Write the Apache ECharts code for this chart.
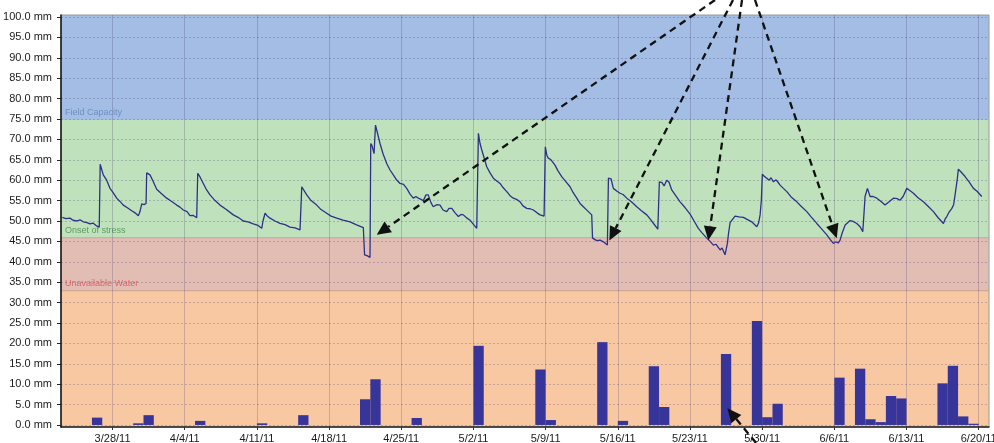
<!DOCTYPE html>
<html><head><meta charset="utf-8">
<script src="https://cdn.jsdelivr.net/npm/echarts@6/dist/echarts.min.js"></script>
<style>html,body{margin:0;padding:0;background:#fff}#c{width:994px;height:443px}</style>
</head><body><div id="c"></div>
<script>
// x values are days counted from 3/23/11 00:00
const tickDays = [5,12,19,26,33,40,47,54,61,68,75,82,89];
const tickLabels = ['3/28/11','4/4/11','4/11/11','4/18/11','4/25/11','5/2/11','5/9/11','5/16/11','5/23/11','5/30/11','6/6/11','6/13/11','6/20/11'];
const yTicks = [0,5,10,15,20,25,30,35,40,45,50,55,60,65,70,75,80,85,90,95,100];

// daily rain / irrigation (mm)
const rainDays = [3,7,8,13,19,23,29,30,34,40,46,47,52,54,57,58,64,67,68,69,75,77,78,79,80,81,85,86,87,88];
const rainMm   = [1.8,0.4,2.4,1.0,0.4,2.4,6.3,11.2,1.7,19.4,13.6,1.2,20.3,1.0,14.4,4.4,17.4,25.5,1.9,5.2,11.6,13.8,1.4,0.7,7.1,6.5,10.2,14.5,2.1,0.3];

// soil moisture (mm)
const moistDays = [0.13,0.48,0.87,1.16,1.52,1.84,2.16,2.52,2.81,3.10,3.46,3.71,3.80,4.10,4.43,4.75,5.04,5.40,5.72,6.04,6.40,6.86,7.18,7.50,7.66,7.83,8.05,8.25,8.31,8.63,8.92,9.28,9.70,10.25,10.67,11.22,11.54,11.86,12.22,12.51,12.80,13.16,13.26,13.48,13.80,14.06,14.45,14.94,15.42,16.0,16.71,17.17,17.68,18.14,18.65,19.11,19.47,19.59,19.79,19.98,20.27,20.76,21.24,21.73,22.21,22.70,23.18,23.35,23.83,24.25,24.80,25.22,25.77,26.19,26.74,27.35,28.03,28.61,29.32,29.44,29.68,29.97,30.04,30.16,30.36,30.50,30.65,30.94,31.23,31.59,31.91,32.23,32.54,32.88,33.22,33.53,33.85,34.17,34.43,34.65,34.91,35.14,35.40,35.62,35.88,36.10,36.46,36.76,37.05,37.41,37.63,37.90,38.22,38.54,38.80,39.02,39.38,39.67,40.06,40.32,40.48,40.64,40.81,41.03,41.29,41.61,41.93,42.26,42.58,42.87,43.23,43.55,43.87,44.18,44.52,44.81,45.17,45.49,45.81,46.17,46.46,46.85,46.97,47.13,47.26,47.52,47.91,48.20,48.56,48.98,49.37,49.66,50.02,50.34,50.66,51.02,51.47,51.55,51.96,52.28,52.60,52.77,52.99,53.09,53.35,53.57,53.93,54.22,54.51,54.87,55.29,55.84,56.26,56.81,57.13,57.52,57.88,58.03,58.29,58.49,58.75,58.97,59.23,59.65,60.04,60.52,61.01,61.40,61.81,62.17,62.63,62.95,63.27,63.53,63.92,64.11,64.40,64.63,64.74,64.89,65.37,65.76,66.18,66.54,66.99,67.48,67.65,67.80,67.92,68.02,68.18,68.45,68.67,68.86,69.09,69.35,69.54,69.74,70.06,70.39,70.81,71.36,71.78,72.33,72.75,73.30,73.72,74.27,74.59,74.91,75.17,75.37,75.56,75.75,76.05,76.53,76.82,77.18,77.50,77.76,77.88,77.98,78.21,78.47,78.76,79.12,79.53,79.92,80.31,80.73,81.09,81.38,81.67,82.03,82.35,82.67,83.12,83.64,84.09,84.61,85.07,85.58,85.75,85.91,86.13,86.40,86.57,86.71,86.91,87.03,87.29,87.68,88.07,88.49,88.84,89.30];
const moistMm = [50.9,50.6,50.7,50.2,50.0,50.3,49.8,49.6,49.3,49.5,48.8,48.5,63.9,61.3,60.0,58.0,57.0,55.6,54.8,53.9,53.3,52.5,52.0,51.3,52.3,54.2,54.0,54.3,61.8,61.3,59.8,57.8,56.8,55.6,54.9,53.9,53.4,52.7,52.3,51.3,51.4,50.8,61.7,60.8,59.2,57.9,56.4,55.0,53.9,52.9,51.5,50.9,50.0,49.8,49.3,48.9,48.2,50.0,51.9,51.3,50.7,50.0,49.4,49.1,48.5,48.3,47.8,58.4,56.4,55.0,53.9,52.8,51.9,51.2,50.7,50.2,49.8,49.1,48.4,41.7,41.5,41.1,69.0,68.5,66.5,73.5,72.0,69.0,66.5,64.1,62.5,61.3,60.1,59.2,59.0,58.0,56.6,55.6,56.0,55.6,55.3,55.0,56.4,56.4,54.5,53.5,54.0,53.9,52.7,52.3,53.1,53.1,52.0,51.1,51.6,51.5,50.7,50.2,49.0,48.2,71.5,69.0,67.4,65.5,63.3,61.8,60.5,59.8,59.2,58.2,57.2,56.2,55.6,55.3,54.7,53.7,53.1,53.0,52.7,52.0,51.5,51.2,68.2,66.0,65.4,65.0,63.7,62.3,60.9,59.6,58.4,57.0,55.6,54.3,53.5,52.6,51.5,45.8,45.2,45.3,44.9,45.3,44.1,60.5,60.3,58.0,57.3,56.8,56.5,55.6,54.8,53.5,52.6,51.5,50.5,49.2,48.0,59.6,59.4,58.6,60.0,59.5,57.6,56.1,54.7,53.3,51.7,50.0,48.2,47.1,45.8,45.0,44.1,44.3,42.9,43.4,41.7,44.5,47.0,49.6,51.2,51.0,50.9,50.4,49.8,48.6,49.5,51.5,55.0,61.5,61.0,60.5,60.0,60.6,59.6,60.1,59.5,58.8,58.0,57.2,55.9,54.7,53.6,52.3,51.0,49.4,48.2,46.6,45.5,44.5,44.9,44.6,45.3,47.0,49.0,50.1,49.9,49.4,48.6,47.4,52.0,56.0,58.0,56.0,56.0,55.6,54.8,53.9,54.7,55.6,55.5,55.1,56.0,58.0,57.4,56.8,55.7,54.7,53.6,52.3,50.8,49.4,50.5,51.1,52.2,53.1,54.0,56.4,60.0,62.7,62.0,60.9,59.6,58.0,57.3,56.0];

// soil water zones (mm)
const bandLow   = [-0.5, 33, 46, 75];
const bandHigh  = [33, 46, 75, 100.5];
const bandNames = ['', 'Unavailable Water', 'Onset of stress', 'Field Capacity'];

// annotation arrows: tips in data units, tails in page pixels
const annTipDay = [30.62, 53.18, 62.78, 75.24, 64.63];
const annTipMm  = [46.6, 45.2, 45.3, 45.8, 4.1];
const annTailX  = [715, 733, 742, 755, 756];
const annTailY  = [0, 0, 0, 0, 443];

const X_MIN = 0, X_MAX = 90, Y_MIN = -0.5, Y_MAX = 100.5;
const bandFill = ['#f8c8a3', '#e2bdb4', '#bfe2bc', '#a3bde4'];
const bandEdge = ['#caa28c', '#c7a39b', '#a5cfa2', null];
const bandText = ['', '#e46464', '#5f9b5f', '#6f8fc3'];

const chart = echarts.init(document.getElementById('c'), null, {renderer: 'canvas'});
const FONT = '"Liberation Sans", Arial, sans-serif';

chart.setOption({
  animation: false,
  backgroundColor: '#ffffff',
  grid: {left: 61, right: 5, top: 15, bottom: 16, containLabel: false, outerBoundsMode: 'none',
    show: true, borderColor: '#9a9a9a', borderWidth: 1, backgroundColor: 'transparent'},
  xAxis: {
    type: 'value', min: X_MIN, max: X_MAX,
    axisLine: {show: true, onZero: false, lineStyle: {color: '#222', width: 1.5}},
    axisTick: {show: true, customValues: tickDays, length: 3, lineStyle: {color: '#333'}},
    axisLabel: {customValues: tickDays, color: '#1a1a1a', fontSize: 11, fontFamily: FONT, margin: 6,
      formatter: v => tickLabels[tickDays.indexOf(Math.round(v))] || ''},
    splitLine: {show: true, lineStyle: {color: 'rgba(70,60,110,0.25)', width: 1}}
  },
  yAxis: {
    type: 'value', min: Y_MIN, max: Y_MAX,
    axisLine: {show: true, onZero: false, lineStyle: {color: '#111', width: 1.5}},
    axisTick: {show: true, customValues: yTicks, length: 4, lineStyle: {color: '#222'}},
    axisLabel: {customValues: yTicks, color: '#1a1a1a', fontSize: 11, fontFamily: FONT, margin: 9,
      formatter: v => v.toFixed(1) + ' mm'},
    splitLine: {show: true, lineStyle: {color: 'rgba(70,60,110,0.28)', width: 1, type: [2, 2]}}
  },
  series: [
    {
      type: 'custom', z: -1, silent: true,
      data: bandLow.map((l, i) => [i, l, bandHigh[i]]),
      encode: {x: -1, y: [1, 2]},
      renderItem: (params, api) => {
        const i = params.dataIndex;
        const pTop = api.coord([X_MIN, api.value(2)]);
        const pBot = api.coord([X_MAX, api.value(1)]);
        const children = [{
          type: 'rect',
          shape: {x: pTop[0], y: pTop[1], width: pBot[0] - pTop[0], height: pBot[1] - pTop[1]},
          style: {fill: bandFill[i]}
        }];
        if (bandEdge[i]) {
          children.push({type: 'line', shape: {x1: pTop[0], y1: pTop[1], x2: pBot[0], y2: pTop[1]},
            style: {stroke: bandEdge[i], lineWidth: 2}});
        }
        if (bandNames[i]) {
          children.push({type: 'text', x: pTop[0] + 4, y: pBot[1] - 2,
            style: {text: bandNames[i], fill: bandText[i], font: '9px ' + FONT, align: 'left', verticalAlign: 'bottom'}});
        }
        return {type: 'group', children};
      }
    },
    {
      type: 'custom', z: 3, silent: true,
      data: rainDays.map((d, i) => [d, rainMm[i]]),
      encode: {x: 0, y: 1},
      renderItem: (params, api) => {
        const a = api.coord([api.value(0), 0]);
        const b = api.coord([api.value(0) + 1, api.value(1)]);
        return {type: 'rect', shape: {x: a[0], y: b[1], width: b[0] - a[0], height: a[1] - b[1]},
          style: {fill: '#37349a'}};
      }
    },
    {
      type: 'line', z: 4, silent: true, showSymbol: false, symbol: 'none',
      data: moistDays.map((d, i) => [d, moistMm[i]]),
      lineStyle: {color: '#2e3089', width: 1.3}
    }
  ]
});

// dashed annotation arrows
const graphics = [];
annTipDay.forEach((d, i) => {
  const tip = chart.convertToPixel({gridIndex: 0}, [d, annTipMm[i]]);
  const tx = annTailX[i], ty = annTailY[i];
  const dx = tip[0] - tx, dy = tip[1] - ty, len = Math.hypot(dx, dy);
  const ux = dx / len, uy = dy / len;
  const L = 14, W = 6.5;
  const bx = tip[0] - ux * L, by = tip[1] - uy * L;
  graphics.push({type: 'line', z: 100, shape: {x1: tx, y1: ty, x2: bx, y2: by},
    style: {stroke: '#111', lineWidth: 2.3, lineDash: [7, 5]}});
  graphics.push({type: 'polygon', z: 100, shape: {points: [[tip[0], tip[1]], [bx - uy * W, by + ux * W], [bx + uy * W, by - ux * W]]},
    style: {fill: '#111'}});
});
chart.setOption({graphic: graphics});
</script>
</body></html>
